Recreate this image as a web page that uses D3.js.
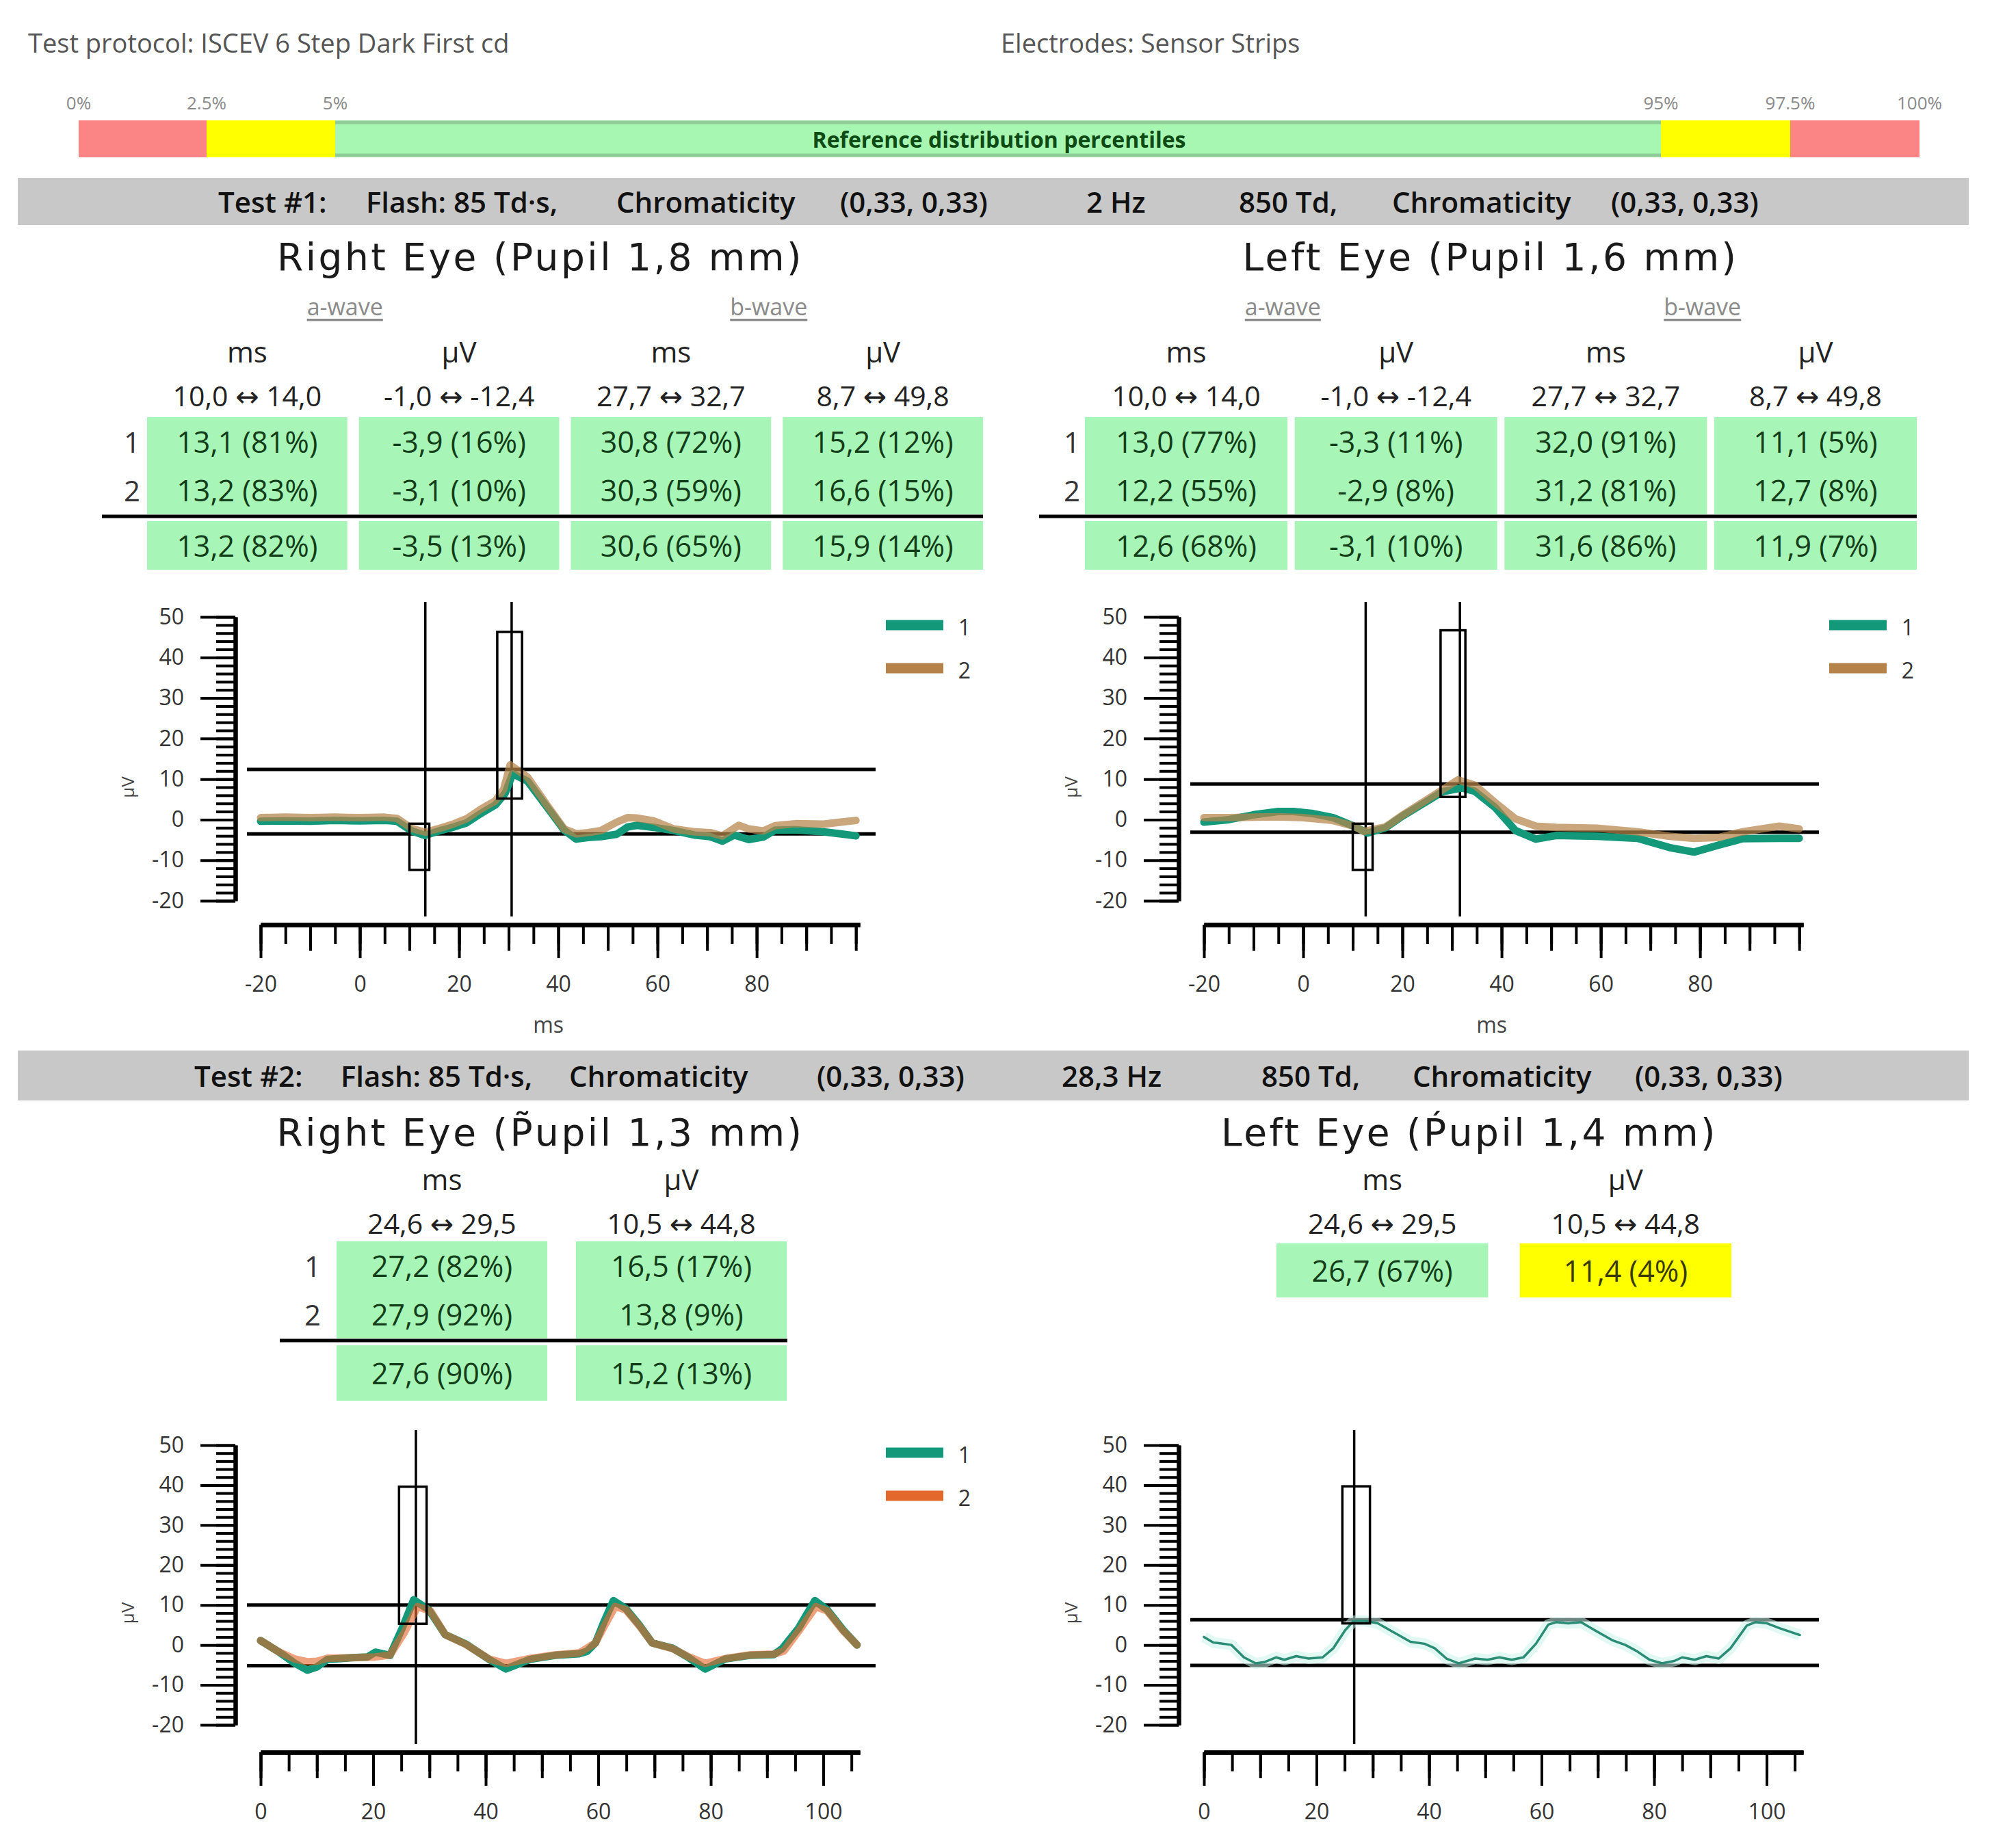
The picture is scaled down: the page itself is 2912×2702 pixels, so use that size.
<!DOCTYPE html>
<html><head><meta charset="utf-8">
<script src="https://cdn.jsdelivr.net/npm/d3@7"></script>
<style>html,body{margin:0;padding:0;background:#fff;}svg{display:block;}</style>
</head><body>
<svg id="chart" width="2912" height="2702"></svg>
<script>
// ---------------- DATA ----------------
const protocolText = "Test protocol: ISCEV 6 Step Dark First cd";
const electrodesText = "Electrodes: Sensor Strips";
const percentileStops = [0, 2.5, 5, 95, 97.5, 100];
const percentileLabels = ["0%", "2.5%", "5%", "95%", "97.5%", "100%"];
const percentileTitle = "Reference distribution percentiles";

const test1Header = ["Test #1:", "Flash: 85 Td·s,", "Chromaticity", "(0,33, 0,33)", "2 Hz", "850 Td,", "Chromaticity", "(0,33, 0,33)"];
const test2Header = ["Test #2:", "Flash: 85 Td·s,", "Chromaticity", "(0,33, 0,33)", "28,3 Hz", "850 Td,", "Chromaticity", "(0,33, 0,33)"];
const test1Titles = ["Right Eye (Pupil 1,8 mm)", "Left Eye (Pupil 1,6 mm)"];
const test2Titles = ["Right Eye (P\u0303upil 1,3 mm)", "Left Eye (\u1E54upil 1,4 mm)"];
const waveLabels = ["a-wave", "b-wave"];

const test1ColHeaders = ["ms", "µV", "ms", "µV"];
const test1Ranges = ["10,0 ↔ 14,0", "-1,0 ↔ -12,4", "27,7 ↔ 32,7", "8,7 ↔ 49,8"];
const test1RightRows = [["13,1 (81%)", "-3,9 (16%)", "30,8 (72%)", "15,2 (12%)"],
                        ["13,2 (83%)", "-3,1 (10%)", "30,3 (59%)", "16,6 (15%)"]];
const test1RightMean = ["13,2 (82%)", "-3,5 (13%)", "30,6 (65%)", "15,9 (14%)"];
const test1LeftRows = [["13,0 (77%)", "-3,3 (11%)", "32,0 (91%)", "11,1 (5%)"],
                       ["12,2 (55%)", "-2,9 (8%)", "31,2 (81%)", "12,7 (8%)"]];
const test1LeftMean = ["12,6 (68%)", "-3,1 (10%)", "31,6 (86%)", "11,9 (7%)"];

const test2ColHeaders = ["ms", "µV"];
const test2Ranges = ["24,6 ↔ 29,5", "10,5 ↔ 44,8"];
const test2RightRows = [["27,2 (82%)", "16,5 (17%)"], ["27,9 (92%)", "13,8 (9%)"]];
const test2RightMean = ["27,6 (90%)", "15,2 (13%)"];
const test2LeftRow = ["26,7 (67%)", "11,4 (4%)"];

// marker values (ms, µV)
const test1ARefMs = [10.0, 14.0], test1ARefUv = [-1.0, -12.4];
const test1BRefMs = [27.7, 32.7], test1BRefUv = [8.7, 49.8];
const test1RightA = [13.2, -3.5], test1RightB = [30.6, 15.9];
const test1LeftA = [12.6, -3.1], test1LeftB = [31.6, 11.9];
const test2RefMs = [24.6, 29.5], test2RefUv = [10.5, 44.8];
const test2RightPeak = [27.6, 15.2], test2RightTrough = -5.2;
const test2LeftPeak = [26.7, 11.4], test2LeftTrough = -5.1;

const yTickValues = [-20, -10, 0, 10, 20, 30, 40, 50];
const test1XLabels = [-20, 0, 20, 40, 60, 80];
const test2XLabels = [0, 20, 40, 60, 80, 100];
const seriesNames = ["1", "2"];

// waveforms [ms, µV]
const t1RightS1 = [[-20,-0.4],[-15,-0.3],[-10,-0.4],[-5,-0.2],[0,-0.3],[5,-0.2],[7.5,-0.4],[10.5,-2.8],[13.1,-3.9],[16.5,-2.6],[19,-1.8],[21.5,-0.8],[24.5,1.6],[27.3,3.6],[29.3,6.5],[30.8,11.3],[33.8,9.5],[37.9,2.8],[41.2,-2.6],[43.6,-4.8],[46,-4.4],[48.6,-4.2],[51.8,-3.6],[54,-1.8],[55.9,-1.4],[59.2,-1.9],[63.3,-2.7],[67.4,-3.8],[70.6,-4.2],[73.1,-5.3],[75.5,-3.8],[78.4,-4.9],[81.3,-4.3],[83.7,-2.6],[87.8,-2.5],[93.5,-3.0],[97,-3.5],[100,-4.0]];
const t1RightS2 = [[-20,0.5],[-15,0.6],[-10,0.5],[-5,0.6],[0,0.5],[5,0.6],[7.5,0.3],[10.5,-2.2],[13.2,-3.1],[16.5,-2.0],[19,-1.0],[21.5,0.2],[24.4,2.6],[27.3,4.6],[29,7.5],[30.3,13.5],[33.8,10.5],[37.9,3.3],[41.2,-2.3],[43.6,-3.5],[46,-3.2],[48.6,-2.7],[51.8,-0.6],[54,0.5],[55.9,0.4],[59.2,-0.3],[63.3,-2.3],[67.4,-3.0],[70.6,-3.2],[73.1,-4.0],[76.4,-1.4],[78.4,-2.3],[81.3,-2.8],[83.7,-1.5],[87.8,-1.0],[93.5,-1.1],[97,-0.6],[100,-0.2]];
const t1LeftS1 = [[-20,-0.6],[-15,0.0],[-10,1.2],[-5,2.0],[-2,2.0],[2,1.5],[6,0.5],[10.2,-1.6],[13.0,-3.3],[16.6,-2.0],[19.9,0.8],[24.8,4.4],[28.1,6.9],[32.0,7.8],[34.6,7.0],[38.7,3.0],[42.8,-2.7],[46.9,-4.8],[51.0,-3.9],[59.2,-4.1],[67.4,-4.6],[73.9,-6.9],[78.8,-8.0],[83.7,-6.3],[88.6,-4.7],[96,-4.6],[100,-4.6]];
const t1LeftS2 = [[-20,0.5],[-15,0.5],[-10,0.6],[-5,0.7],[0,0.5],[6,-0.2],[10.2,-1.6],[12.2,-2.9],[16.6,-1.8],[19.9,1.0],[24.8,4.8],[28.1,7.4],[31.2,9.8],[34.6,8.5],[38.7,4.2],[42.8,0.2],[46.9,-1.6],[51.0,-1.9],[59.2,-2.1],[67.4,-3.0],[73.9,-4.1],[78.8,-4.6],[83.7,-4.4],[88.6,-3.0],[96,-1.6],[100,-2.3]];
const t2RightS1 = [[0,1.1],[3.2,-1.7],[6,-4.5],[8.3,-6.3],[10,-5.5],[11.9,-3.6],[16.2,-3.2],[19,-3.0],[20.4,-1.8],[23,-2.6],[25.2,4.3],[27.2,11.3],[29.9,8.8],[32.8,2.6],[36.4,0.3],[40.7,-3.7],[43.6,-6.0],[47.9,-3.6],[52.3,-2.6],[56.6,-2.2],[58,-1.6],[59.5,0.5],[61,5.7],[62.7,11.1],[64.9,9.1],[67.4,4.8],[69.6,0.5],[73.2,-0.8],[76.1,-3.2],[79,-6.0],[82.6,-3.5],[86.9,-2.6],[91.2,-2.4],[92.7,-0.9],[95.6,4.2],[98.5,11.1],[100.7,8.8],[103.5,3.8],[106,0.0]];
const t2RightS2 = [[0,1.1],[3.2,-1.7],[6,-3.5],[8.3,-4.2],[10,-4.1],[11.9,-3.3],[16.2,-3.2],[20.4,-3.0],[23,-2.5],[25.5,3.0],[27.9,9.6],[30.2,8.5],[32.8,2.6],[36.4,0.2],[40.7,-3.6],[43.6,-4.6],[47.9,-3.4],[52.3,-2.5],[56.6,-2.0],[59.5,0.5],[61.2,5.0],[63,9.6],[64.9,8.8],[67.4,4.6],[69.6,0.5],[73.2,-0.9],[76.1,-3.0],[79,-4.6],[82.6,-3.4],[86.9,-2.5],[91.2,-2.3],[93,-1.5],[95.8,3.8],[98.7,9.6],[100.7,8.5],[103.5,3.6],[106,0.0]];
const t2LeftS1 = [[0,2.0],[1.7,0.6],[3.5,0.3],[4.9,0.0],[7.1,-3.1],[9.2,-4.6],[10.7,-4.3],[12.8,-3.1],[14.3,-3.7],[16.4,-2.8],[18.6,-3.4],[21.1,-3.1],[23.0,-0.8],[25.1,3.7],[26.6,6.0],[28.7,6.0],[30.9,5.4],[33.8,3.1],[36.7,0.8],[39.2,0.3],[41.0,-0.8],[43.1,-3.4],[45.3,-4.6],[48.2,-3.4],[50.4,-3.7],[52.5,-3.1],[54.7,-3.7],[56.8,-3.1],[59.0,0.3],[61.2,5.1],[62.6,5.7],[64.8,5.4],[67.0,5.7],[69.8,3.4],[72.7,1.1],[74.9,0.0],[77.1,-1.7],[79.2,-3.7],[81.4,-4.6],[83.6,-4.0],[85.0,-3.1],[87.2,-3.7],[89.3,-2.8],[91.5,-3.4],[93.6,-0.8],[96.5,4.9],[98.0,5.7],[100.1,5.4],[102.3,4.2],[105.9,2.5]];

// ---------------- DRAWING ----------------
const FONT = "'Open Sans', 'DejaVu Sans', sans-serif";
const svg = d3.select("#chart");
svg.append("rect").attr("width", 2912).attr("height", 2702).attr("fill", "#fff");

function txt(g, x, y, s, opt = {}) {
  const t = g.append("text").attr("x", x).attr("y", y)
    .attr("dominant-baseline", "central")
    .attr("text-anchor", opt.anchor || "middle")
    .attr("font-family", opt.family || FONT)
    .attr("font-size", opt.size || 40)
    .attr("font-weight", opt.weight || 400)
    .attr("fill", opt.fill || "#222")
    .text(s);
  if (opt.ls) t.attr("letter-spacing", opt.ls);
  if (opt.deco) t.attr("text-decoration", opt.deco);
  return t;
}

// header line
txt(svg, 41, 62, protocolText, {anchor: "start", size: 38, fill: "#555"});
txt(svg, 1463, 62, electrodesText, {anchor: "start", size: 38, fill: "#555"});

// percentile bar
const pX = d3.scaleLinear().domain(percentileStops).range([115, 302, 490, 2428, 2617, 2806]);
const segColors = ["#fb8585", "#ffff00", "#a7f7b3", "#ffff00", "#fb8585"];
d3.pairs(percentileStops).forEach(([a, b], i) => {
  svg.append("rect").attr("x", pX(a)).attr("y", 176).attr("width", pX(b) - pX(a)).attr("height", 54).attr("fill", segColors[i]);
});
[179, 227].forEach(yy => svg.append("line").attr("x1", pX(5)).attr("x2", pX(95)).attr("y1", yy).attr("y2", yy)
  .attr("stroke", "#8fcc98").attr("stroke-width", 5));
percentileStops.forEach((p, i) => txt(svg, pX(p), 150, percentileLabels[i], {size: 26, fill: "#8a8a8a"}));
txt(svg, (pX(0) + pX(100)) / 2, 203, percentileTitle, {size: 32, weight: 700, fill: "#0d4a14"});

// grey test bands
const bandX1 = [319, 535, 901, 1228, 1588, 1811, 2035, 2355];
const bandX2 = [284, 498, 832, 1194, 1552, 1844, 2065, 2390];
function band(y, h, items, xs) {
  svg.append("rect").attr("x", 26).attr("y", y).attr("width", 2852).attr("height", h).attr("fill", "#c8c8c8");
  items.forEach((s, i) => txt(svg, xs[i], y + h / 2, s, {anchor: "start", size: 42, weight: 600, fill: "#111"}));
}
band(260, 69, test1Header, bandX1);
band(1536, 73, test2Header, bandX2);

// titles
const titleOpt = {family: "'DejaVu Sans', sans-serif", size: 55, ls: 3.5, fill: "#1a1a1a"};
txt(svg, 790, 376, test1Titles[0], titleOpt);
txt(svg, 2179, 376, test1Titles[1], titleOpt);
txt(svg, 790, 1656, test2Titles[0], titleOpt);
txt(svg, 2148, 1656, test2Titles[1], titleOpt);

// tables
function pct(s) { return +s.match(/\((\d+)%\)/)[1]; }
function cellColor(p) { return (p < 2.5 || p > 97.5) ? "#fb8585" : (p < 5 || p > 95) ? "#ffff00" : "#a7f5b7"; }
function cellText(p) { return (p < 5 || p > 95) ? "#3a3a00" : "#123d18"; }

function drawTable(cfg) {
  const n = cfg.headers.length;
  const xb = d3.scaleBand().domain(d3.range(n)).range(cfg.xr).paddingInner(cfg.pad);
  const c = i => xb(i) + xb.bandwidth() / 2;
  cfg.headers.forEach((h, i) => txt(svg, c(i), cfg.yHead, h, {size: 42, fill: "#222"}));
  cfg.ranges.forEach((h, i) => txt(svg, c(i), cfg.yRange, h, {size: 41, fill: "#222"}));
  if (cfg.waves) cfg.waves.forEach((w, k) => txt(svg, (c(2 * k) + c(2 * k + 1)) / 2 - 12, cfg.yWave, w,
      {size: 34, fill: "#8a8a8a", deco: "underline"}));
  cfg.rows.forEach((row, r) => {
    const y0 = cfg.rowTop + r * cfg.rowH;
    row.forEach((v, i) => {
      const p = pct(v);
      svg.append("rect").attr("x", xb(i)).attr("y", y0).attr("width", xb.bandwidth()).attr("height", cfg.rowH).attr("fill", cellColor(p));
      txt(svg, c(i), y0 + cfg.rowH / 2, v, {size: 43, fill: cellText(p)});
    });
    if (cfg.rows.length > 1) txt(svg, cfg.labelX, y0 + cfg.rowH / 2, seriesNames[r], {size: 42, fill: "#333"});
  });
  if (cfg.mean) {
    const yS = cfg.rowTop + cfg.rows.length * cfg.rowH + 3;
    svg.append("line").attr("x1", cfg.sepX[0]).attr("x2", cfg.sepX[1]).attr("y1", yS).attr("y2", yS).attr("stroke", "#000").attr("stroke-width", 5);
    cfg.mean.forEach((v, i) => {
      const p = pct(v);
      svg.append("rect").attr("x", xb(i)).attr("y", yS + 7).attr("width", xb.bandwidth()).attr("height", cfg.meanH).attr("fill", cellColor(p));
      txt(svg, c(i), yS + 7 + cfg.meanH / 2, v, {size: 43, fill: cellText(p)});
    });
  }
}
drawTable({headers: test1ColHeaders, ranges: test1Ranges, rows: test1RightRows, mean: test1RightMean, waves: waveLabels,
  xr: [215, 1437], pad: 0.055, yHead: 513, yRange: 578, yWave: 448, rowTop: 610, rowH: 71, meanH: 71, labelX: 193, sepX: [149, 1437]});
drawTable({headers: test1ColHeaders, ranges: test1Ranges, rows: test1LeftRows, mean: test1LeftMean, waves: waveLabels,
  xr: [1586, 2802], pad: 0.035, yHead: 513, yRange: 578, yWave: 448, rowTop: 610, rowH: 71, meanH: 71, labelX: 1567, sepX: [1519, 2802]});
drawTable({headers: test2ColHeaders, ranges: test2Ranges, rows: test2RightRows, mean: test2RightMean,
  xr: [492, 1150], pad: 0.12, yHead: 1723, yRange: 1788, rowTop: 1815, rowH: 71, meanH: 81, labelX: 457, sepX: [409, 1151]});
drawTable({headers: test2ColHeaders, ranges: test2Ranges, rows: [test2LeftRow],
  xr: [1866, 2531], pad: 0.13, yHead: 1723, yRange: 1788, rowTop: 1818, rowH: 79, labelX: 1840});

// ---------------- PANELS ----------------
const TEAL = "#13997a";
const fmt = d => String(d);
function drawPanel(p) {
  const g = svg.append("g");
  const x = p.x, y = p.y;
  // y axis
  const yMinor = d3.axisLeft(y).tickValues(d3.range(-20, 51, 2)).tickSize(28).tickSizeOuter(0).tickFormat("");
  const yMajor = d3.axisLeft(y).tickValues(yTickValues).tickSize(51).tickSizeOuter(0).tickPadding(24).tickFormat(fmt);
  const ya = g.append("g").attr("transform", `translate(${p.yAxisX},0)`).call(yMinor);
  const yb = g.append("g").attr("transform", `translate(${p.yAxisX},0)`).call(yMajor);
  // x axis
  const xd = x.domain();
  const x5 = d3.range(xd[0], xd[1], 5), x10 = d3.range(xd[0], xd[1], 10);
  const xMinor = d3.axisBottom(x).tickValues(x5).tickSize(28).tickSizeOuter(0).tickFormat("");
  const xMed = d3.axisBottom(x).tickValues(x10).tickSize(38).tickSizeOuter(0).tickFormat("");
  const xMajor = d3.axisBottom(x).tickValues(p.xLabels).tickSize(49).tickSizeOuter(0).tickPadding(26).tickFormat(fmt);
  const xa = g.append("g").attr("transform", `translate(0,${p.xAxisY})`).call(xMinor);
  const xm = g.append("g").attr("transform", `translate(0,${p.xAxisY})`).call(xMed);
  const xb = g.append("g").attr("transform", `translate(0,${p.xAxisY})`).call(xMajor);
  [ya, yb, xa, xm, xb].forEach(a => {
    a.select(".domain").attr("stroke", "#000").attr("stroke-width", 6);
    a.selectAll(".tick line").attr("stroke", "#000").attr("stroke-width", 4);
    a.selectAll(".tick text").attr("font-family", FONT).attr("font-size", 32).attr("fill", "#333");
  });
  xb.selectAll(".tick text").attr("dy", "0.71em");
  // axis titles
  txt(g, p.yAxisX - 158, y(8), "µV", {size: 26, fill: "#444"}).attr("transform", `rotate(-90,${p.yAxisX - 158},${y(8)})`);
  if (p.msLabel) txt(g, x(38), p.xAxisY + 145, "ms", {size: 32, fill: "#444"});
  // reference lines
  const hx = [p.yAxisX + 17, p.yAxisX + 936];
  p.hLines.forEach(v => g.append("line").attr("x1", hx[0]).attr("x2", hx[1]).attr("y1", y(v)).attr("y2", y(v))
    .attr("stroke", "#000").attr("stroke-width", 5));
  p.vLines.forEach(m => g.append("line").attr("x1", x(m)).attr("x2", x(m)).attr("y1", p.vExtent[0]).attr("y2", p.vExtent[1])
    .attr("stroke", "#000").attr("stroke-width", 3.5));
  // waveforms
  const line = d3.line().x(d => x(d[0])).y(d => y(d[1]));
  p.series.forEach(s => {
    if (s.halo) g.append("path").datum(s.data).attr("d", line).attr("fill", "none").attr("stroke", "#c9f3ea")
      .attr("stroke-width", 16).attr("stroke-linejoin", "round").attr("opacity", 0.55);
    g.append("path").datum(s.data).attr("d", line).attr("fill", "none").attr("stroke", s.color)
      .attr("stroke-width", s.w).attr("stroke-linejoin", "round").attr("stroke-linecap", "round").attr("opacity", s.op || 1);
  });
  // boxes
  p.boxes.forEach(b => g.append("rect").attr("x", x(b.ms[0])).attr("width", x(b.ms[1]) - x(b.ms[0]))
    .attr("y", y(Math.max(...b.uv))).attr("height", Math.abs(y(b.uv[0]) - y(b.uv[1])))
    .attr("fill", "none").attr("stroke", "#000").attr("stroke-width", 3.5));
  // legend
  if (p.legend) p.legend.forEach((c, i) => {
    const ly = p.legendY + i * 63;
    g.append("line").attr("x1", p.yAxisX + 951).attr("x2", p.yAxisX + 1035).attr("y1", ly).attr("y2", ly)
      .attr("stroke", c).attr("stroke-width", 15);
    txt(g, p.yAxisX + 1066, ly + 2, seriesNames[i], {size: 32, fill: "#333"});
  });
}

const OFF = 1379;
const t1y = d3.scaleLinear().domain([-20, 50]).range([1317, 902]);
const t2y = d3.scaleLinear().domain([-20, 50]).range([2522, 2113]);
const BROWN = "#b58349", ORANGE = "#e2682c";

drawPanel({x: d3.scaleLinear().domain([-20, 100.8]).range([381, 1257]), y: t1y, yAxisX: 344, xAxisY: 1352,
  xLabels: test1XLabels, msLabel: true, vExtent: [880, 1340],
  hLines: [test1RightA[1], test1RightA[1] + test1RightB[1]], vLines: [test1RightA[0], test1RightB[0]],
  boxes: [{ms: test1ARefMs, uv: test1ARefUv}, {ms: test1BRefMs, uv: test1BRefUv.map(v => v + test1RightA[1])}],
  series: [{data: t1RightS1, color: TEAL, w: 11}, {data: t1RightS2, color: BROWN, w: 11, op: 0.72}],
  legend: [TEAL, BROWN], legendY: 914});
drawPanel({x: d3.scaleLinear().domain([-20, 100.8]).range([381 + OFF, 1257 + OFF]), y: t1y, yAxisX: 344 + OFF, xAxisY: 1352,
  xLabels: test1XLabels, msLabel: true, vExtent: [880, 1340],
  hLines: [test1LeftA[1], test1LeftA[1] + test1LeftB[1]], vLines: [test1LeftA[0], test1LeftB[0]],
  boxes: [{ms: test1ARefMs, uv: test1ARefUv}, {ms: test1BRefMs, uv: test1BRefUv.map(v => v + test1LeftA[1])}],
  series: [{data: t1LeftS1, color: TEAL, w: 11}, {data: t1LeftS2, color: BROWN, w: 11, op: 0.72}],
  legend: [TEAL, BROWN], legendY: 914});
drawPanel({x: d3.scaleLinear().domain([0, 106.5]).range([381, 1257]), y: t2y, yAxisX: 344, xAxisY: 2562,
  xLabels: test2XLabels, msLabel: false, vExtent: [2091, 2550],
  hLines: [test2RightTrough, test2RightTrough + test2RightPeak[1]], vLines: [test2RightPeak[0]],
  boxes: [{ms: test2RefMs, uv: test2RefUv.map(v => v + test2RightTrough)}],
  series: [{data: t2RightS1, color: TEAL, w: 11}, {data: t2RightS2, color: ORANGE, w: 11, op: 0.62}],
  legend: [TEAL, ORANGE], legendY: 2124});
drawPanel({x: d3.scaleLinear().domain([0, 106.5]).range([381 + OFF, 1257 + OFF]), y: t2y, yAxisX: 344 + OFF, xAxisY: 2562,
  xLabels: test2XLabels, msLabel: false, vExtent: [2091, 2550],
  hLines: [test2LeftTrough, test2LeftTrough + test2LeftPeak[1]], vLines: [test2LeftPeak[0]],
  boxes: [{ms: test2RefMs, uv: test2RefUv.map(v => v + test2LeftTrough)}],
  series: [{data: t2LeftS1, color: "#2b8c76", w: 3.5, halo: true}]});
</script>
</body></html>
